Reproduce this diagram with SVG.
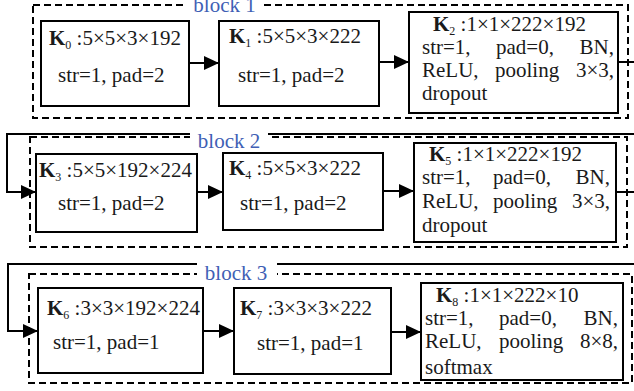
<svg xmlns="http://www.w3.org/2000/svg" width="634" height="391" viewBox="0 0 634 391">
  <style>
    text { font-family: "Liberation Serif", "Times New Roman", serif; font-size: 21px; fill: #1a1a1a; }
    .k { font-weight: bold; }
    .sub { font-size: 12px; }
    .lbl { fill: #3f5fb5; }
    .node { fill: #ffffff; stroke: #000000; stroke-width: 2; }
    .block { fill: none; stroke: #000000; stroke-width: 2; stroke-dasharray: 7 4; }
    .wire { fill: none; stroke: #000000; stroke-width: 2; }
    .gap { fill: #ffffff; }
  </style>
  <defs>
    <marker id="head" markerUnits="userSpaceOnUse" markerWidth="16" markerHeight="16" refX="15" refY="7" orient="auto">
      <path d="M0,0 L15,7 L0,14 Z" fill="#000000"/>
    </marker>
  </defs>

  <!-- dashed block frames -->
  <g id="blocks">
    <rect class="block" x="33" y="5" width="595" height="113"/>
    <rect class="block" x="30" y="137" width="597" height="110"/>
    <rect class="block" x="29" y="274" width="603" height="109"/>
  </g>

  <!-- connectors -->
  <g id="connectors">
    <line class="wire" x1="189" y1="63" x2="219" y2="63" marker-end="url(#head)"/>
    <line class="wire" x1="379" y1="62" x2="409" y2="62" marker-end="url(#head)"/>
    <polyline class="wire" points="618,62 640,62 640,134 7,134 7,192 36,192" marker-end="url(#head)"/>
    <line class="wire" x1="197" y1="192" x2="223" y2="192" marker-end="url(#head)"/>
    <line class="wire" x1="383" y1="191" x2="414" y2="191" marker-end="url(#head)"/>
    <polyline class="wire" points="616,192 640,192 640,264 8,264 8,331 38,331" marker-end="url(#head)"/>
    <line class="wire" x1="203" y1="331" x2="234" y2="331" marker-end="url(#head)"/>
    <line class="wire" x1="391" y1="332" x2="421" y2="332" marker-end="url(#head)"/>
  </g>

  <!-- block titles -->
  <g id="block1-label">
    <rect class="gap" x="187" y="0" width="75" height="14"/>
    <text class="lbl" x="224.5" y="12" text-anchor="middle">block 1</text>
  </g>
  <g id="block2-label">
    <rect class="gap" x="190" y="128" width="78" height="22"/>
    <text class="lbl" x="229" y="148" text-anchor="middle">block 2</text>
  </g>
  <g id="block3-label">
    <rect class="gap" x="197" y="258" width="80" height="24"/>
    <text class="lbl" x="236" y="280" text-anchor="middle">block 3</text>
  </g>

  <!-- row 1 -->
  <g id="K0">
    <rect class="node" x="41" y="21" width="148" height="85"/>
    <text x="49" y="45"><tspan class="k">K</tspan><tspan class="sub" dy="4">0</tspan><tspan dy="-4"> :5×5×3×192</tspan></text>
    <text x="58" y="82">str=1, pad=2</text>
  </g>
  <g id="K1">
    <rect class="node" x="219" y="21" width="160" height="85"/>
    <text x="229" y="43"><tspan class="k">K</tspan><tspan class="sub" dy="4">1</tspan><tspan dy="-4"> :5×5×3×222</tspan></text>
    <text x="238" y="82">str=1, pad=2</text>
  </g>
  <g id="K2">
    <rect class="node" x="409" y="12" width="209" height="101"/>
    <text x="433" y="31"><tspan class="k">K</tspan><tspan class="sub" dy="4">2</tspan><tspan dy="-4"> :1×1×222×192</tspan></text>
    <text x="422" y="54">str=1,</text>
    <text x="496" y="54">pad=0,</text>
    <text x="614" y="54" text-anchor="end">BN,</text>
    <text x="422" y="77">ReLU,</text>
    <text x="495" y="77">pooling</text>
    <text x="614" y="77" text-anchor="end">3×3,</text>
    <text x="422" y="100">dropout</text>
  </g>

  <!-- row 2 -->
  <g id="K3">
    <rect class="node" x="36" y="154" width="161" height="78"/>
    <text x="39" y="177"><tspan class="k">K</tspan><tspan class="sub" dy="4">3</tspan><tspan dy="-4"> :5×5×192×224</tspan></text>
    <text x="58" y="210">str=1, pad=2</text>
  </g>
  <g id="K4">
    <rect class="node" x="223" y="153" width="160" height="77"/>
    <text x="229" y="175"><tspan class="k">K</tspan><tspan class="sub" dy="4">4</tspan><tspan dy="-4"> :5×5×3×222</tspan></text>
    <text x="240" y="210">str=1, pad=2</text>
  </g>
  <g id="K5">
    <rect class="node" x="414" y="143" width="202" height="99"/>
    <text x="429" y="161"><tspan class="k">K</tspan><tspan class="sub" dy="4">5</tspan><tspan dy="-4"> :1×1×222×192</tspan></text>
    <text x="422" y="184">str=1,</text>
    <text x="493" y="184">pad=0,</text>
    <text x="610" y="184" text-anchor="end">BN,</text>
    <text x="422" y="208">ReLU,</text>
    <text x="493" y="208">pooling</text>
    <text x="610" y="208" text-anchor="end">3×3,</text>
    <text x="422" y="232">dropout</text>
  </g>

  <!-- row 3 -->
  <g id="K6">
    <rect class="node" x="38" y="288" width="165" height="85"/>
    <text x="47" y="315"><tspan class="k">K</tspan><tspan class="sub" dy="4">6</tspan><tspan dy="-4"> :3×3×192×224</tspan></text>
    <text x="53" y="349">str=1, pad=1</text>
  </g>
  <g id="K7">
    <rect class="node" x="234" y="288" width="157" height="86"/>
    <text x="240" y="315"><tspan class="k">K</tspan><tspan class="sub" dy="4">7</tspan><tspan dy="-4"> :3×3×3×222</tspan></text>
    <text x="257" y="350">str=1, pad=1</text>
  </g>
  <g id="K8">
    <rect class="node" x="421" y="283" width="202" height="97"/>
    <text x="436" y="302"><tspan class="k">K</tspan><tspan class="sub" dy="4">8</tspan><tspan dy="-4"> :1×1×222×10</tspan></text>
    <text x="425" y="325">str=1,</text>
    <text x="499" y="325">pad=0,</text>
    <text x="618" y="325" text-anchor="end">BN,</text>
    <text x="425" y="348">ReLU,</text>
    <text x="499" y="348">pooling</text>
    <text x="618" y="348" text-anchor="end">8×8,</text>
    <text x="425" y="374">softmax</text>
  </g>
</svg>
